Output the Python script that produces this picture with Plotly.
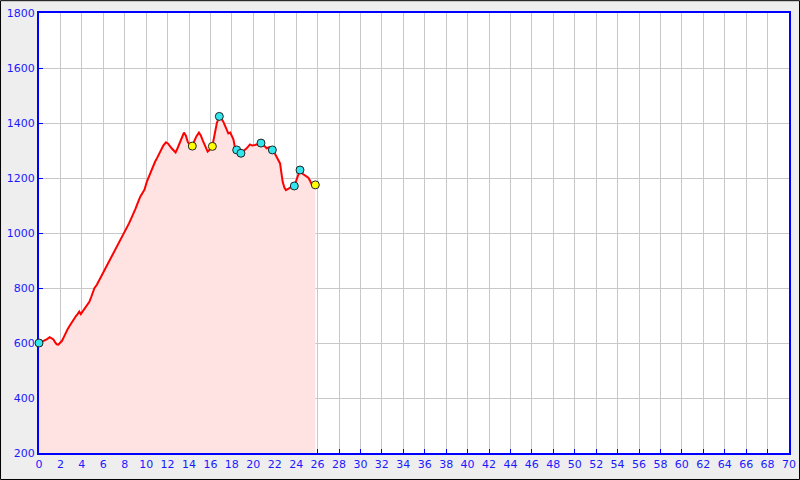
import plotly.graph_objects as go

dist_km = [0.0, 0.25, 0.5, 0.75, 1.0, 1.2, 1.35, 1.5, 1.65, 1.8, 1.96, 2.15, 2.36, 2.5, 2.67, 2.85, 3.0, 3.15, 3.3, 3.45, 3.6, 3.76, 3.9, 4.1, 4.33, 4.5, 4.7, 4.9, 5.17, 5.4, 5.63, 5.85, 6.04, 6.3, 6.5, 6.72, 6.9, 7.1, 7.3, 7.5, 7.75, 7.96, 8.2, 8.4, 8.6, 8.8, 9.0, 9.2, 9.45, 9.7, 9.85, 10.05, 10.3, 10.55, 10.83, 11.05, 11.3, 11.6, 11.85, 12.05, 12.38, 12.55, 12.75, 12.95, 13.2, 13.53, 13.7, 13.9, 14.1, 14.31, 14.5, 14.7, 14.93, 15.1, 15.3, 15.5, 15.74, 15.9, 16.18, 16.4, 16.6, 16.83, 17.0, 17.2, 17.45, 17.67, 17.85, 17.98, 18.15, 18.3, 18.45, 18.65, 18.85, 19.1, 19.38, 19.69, 19.9, 20.16, 20.45, 20.72, 21.0, 21.25, 21.5, 21.78, 22.0, 22.25, 22.5, 22.6, 22.74, 22.9, 23.05, 23.25, 23.43, 23.83, 24.05, 24.2, 24.36, 24.6, 24.83, 25.0, 25.14, 25.3, 25.45, 25.79]
elev_m = [600, 604, 608, 614, 621, 618, 613, 603, 595, 594, 599, 608, 625, 638, 650, 662, 672, 682, 690, 698, 705, 714, 705, 716, 730, 740, 750, 770, 799, 812, 829, 842, 856, 875, 890, 908, 922, 938, 952, 968, 985, 1003, 1020, 1035, 1052, 1068, 1088, 1108, 1132, 1148, 1158, 1185, 1210, 1232, 1259, 1275, 1295, 1318, 1330, 1325, 1308, 1302, 1293, 1310, 1335, 1365, 1355, 1330, 1320, 1316, 1335, 1352, 1365, 1355, 1335, 1318, 1296, 1302, 1315, 1360, 1400, 1424, 1418, 1405, 1385, 1362, 1365, 1356, 1340, 1308, 1302, 1296, 1290, 1298, 1308, 1322, 1318, 1320, 1325, 1327, 1318, 1308, 1312, 1302, 1290, 1272, 1253, 1225, 1187, 1165, 1156, 1160, 1165, 1171, 1195, 1215, 1229, 1215, 1208, 1205, 1201, 1190, 1177, 1175]

marker_x = [0.0, 14.31, 16.18, 16.83, 18.45, 18.85, 20.72, 21.78, 23.83, 24.36, 25.79]
marker_y = [600, 1316, 1315, 1424, 1302, 1290, 1327, 1302, 1171, 1229, 1175]
marker_colors = ["#33e6ee", "#ffff00", "#ffff00", "#33e6ee", "#33e6ee", "#33e6ee", "#33e6ee", "#33e6ee", "#33e6ee", "#33e6ee", "#ffff00"]

x_ticks = list(range(0, 71, 2))
y_ticks = list(range(200, 1801, 200))

blue = "#1a1aff"

fig = go.Figure()
fig.add_trace(go.Scatter(
    x=dist_km, y=elev_m, mode="lines", fill="tozeroy",
    fillcolor="#ffe3e3", line=dict(color="#ff0000", width=2),
    hoverinfo="skip", showlegend=False,
))
fig.add_trace(go.Scatter(
    x=marker_x, y=marker_y, mode="markers",
    marker=dict(color=marker_colors, size=8, line=dict(color="#222222", width=1)),
    showlegend=False, cliponaxis=False,
))

fig.update_layout(
    width=800, height=480,
    margin=dict(l=39, r=11, t=13, b=27, autoexpand=False),
    paper_bgcolor="#eeeeee", plot_bgcolor="#ffffff",
    font=dict(family="DejaVu Sans", size=11, color=blue),
    showlegend=False,
    shapes=[dict(type="rect", xref="paper", yref="paper",
                 x0=-0.0513, x1=1.014, y0=-0.0602, y1=1.028,
                 line=dict(color="#000000", width=1), fillcolor="rgba(0,0,0,0)", layer="above")],
)
fig.update_xaxes(
    range=[0, 70], tickvals=x_ticks, ticktext=[str(v) for v in x_ticks],
    automargin=False,
    showgrid=True, gridcolor="#c8c8c8", gridwidth=1, zeroline=False,
    showline=True, linecolor="#0000ff", linewidth=2, mirror=True,
    ticks="inside", ticklen=4, tickcolor="#0000ff", tickwidth=1,
    tickfont=dict(color=blue, size=11), layer="below traces",
)
fig.update_yaxes(
    range=[200, 1800], tickvals=y_ticks, ticktext=[str(v) for v in y_ticks],
    automargin=False,
    showgrid=True, gridcolor="#c8c8c8", gridwidth=1, zeroline=False,
    showline=True, linecolor="#0000ff", linewidth=2, mirror=True,
    ticks="inside", ticklen=4, tickcolor="#0000ff", tickwidth=1,
    tickfont=dict(color=blue, size=11), layer="below traces",
)

fig.write_html("out.html", config={"displayModeBar": False},
               post_script="document.body.style.margin='0px';document.body.style.padding='0px';document.body.style.overflow='hidden';")
